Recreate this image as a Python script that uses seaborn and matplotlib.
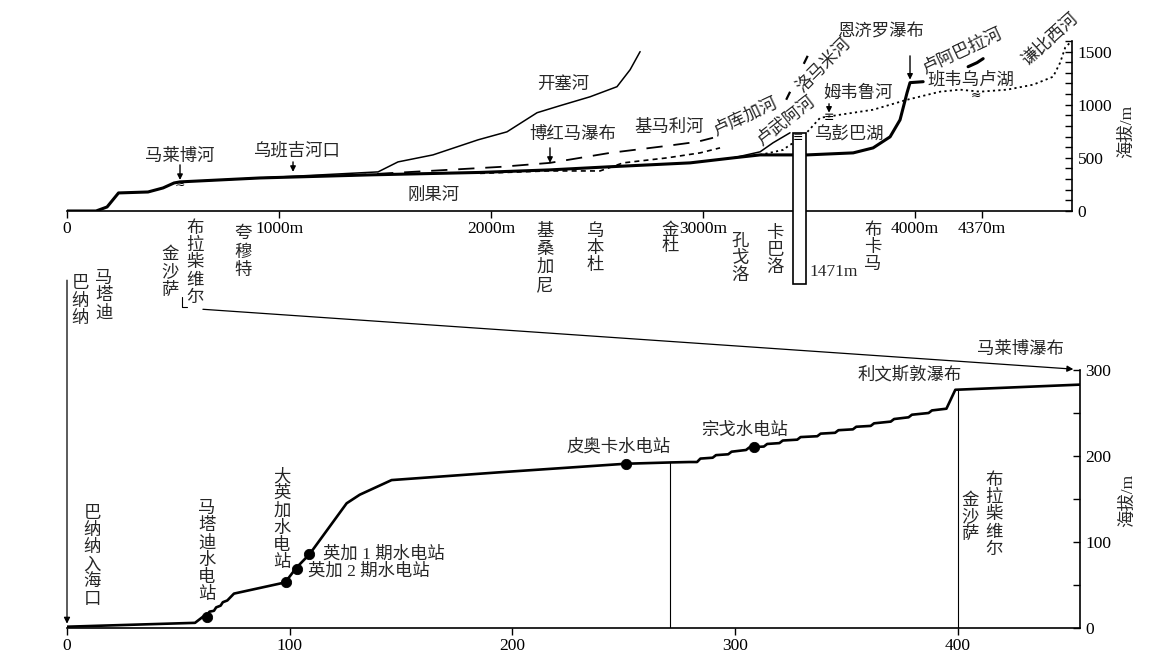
import matplotlib
matplotlib.use('Agg')
import matplotlib.pyplot as plt
import seaborn as sns
from matplotlib.patches import Rectangle, ConnectionPatch
from matplotlib.lines import Line2D

# ---- 上图：刚果河全程纵剖面 (km, m) ----
main_km = [0, 137, 189, 243, 382, 453, 505, 533, 910, 1429, 1948, 2278, 2547, 2939,
           3142, 3269, 3410, 3491, 3708, 3802, 3882, 3929, 3962, 3976, 4038]
main_m = [0, 0, 38, 170, 179, 217, 264, 274, 311, 340, 363, 387, 415, 453,
          500, 528, 528, 528, 547, 594, 698, 858, 1113, 1208, 1217]

kasai_km = [627, 1099, 1467, 1561, 1726, 1939, 2075, 2217, 2325, 2467, 2594, 2656, 2703]
kasai_m = [283, 330, 368, 462, 528, 670, 745, 925, 991, 1075, 1170, 1330, 1500]

kimali_km = [1335, 2042, 2278, 2561, 2830, 2972, 3047]
kimali_m = [335, 415, 453, 547, 613, 651, 689]

lukuga_km = [1948, 2264, 2514, 2623, 2830, 2986, 3080]
lukuga_m = [354, 377, 377, 453, 500, 547, 594]

luvua_km = [3142, 3269, 3330, 3410]
luvua_m = [500, 557, 642, 736]

upper_km = [3269, 3377, 3410, 3458, 3552, 3646, 3802, 3962, 4118, 4212, 4307, 4434,
            4557, 4651, 4684, 4708, 4731]
upper_m = [528, 575, 623, 670, 877, 906, 953, 1047, 1123, 1142, 1123, 1142,
           1189, 1264, 1396, 1538, 1585]

lomami_km = [3392, 3524]
lomami_m = [1047, 1585]

luapula_km = [4250, 4292, 4321]
luapula_m = [1358, 1396, 1434]

# 坦噶尼喀湖 (左, 右, 湖底, 湖面)
lake_box = [3425, 3486, -690, 736]

top_ticks = [0, 1000, 2000, 3000, 4000, 4316]
top_ticklabels = ['0', '1000m', '2000m', '3000m', '4000m', '4370m']

# 湖泊符号
lake_km = [533, 3448, 3594, 4288]
lake_m = [250, 695, 880, 1090]
lake_sym = ['≈', '≡', '≡', '≈']

# 箭头 (km, 起点m, 终点m)
arrow_km = [533, 1066, 2278, 3594, 3976]
arrow_from = [434, 462, 594, 1009, 1460]
arrow_to = [292, 368, 453, 925, 1236]

# ---- 下图：巴纳纳—马莱博瀑布 (km, m) ----
low_km = [0, 57.5, 61, 63, 64, 66, 67, 69, 70, 72, 75, 98, 103, 109, 125.6, 131.5, 145.8,
          194, 251, 271, 279.5, 283, 284.5, 290, 291.5, 297, 298.5, 305, 306.5, 313, 314.5,
          320, 321.5, 328, 329.5, 337, 338.5, 345, 346.5, 353, 354.5, 361, 362.5, 370, 371.5,
          378, 379.5, 387, 388.5, 395, 399, 455]
low_m = [1.5, 6, 13, 15, 19, 20, 24, 26, 30, 32, 40, 53, 70, 86, 145, 155, 172,
         181, 191, 192.5, 193, 193, 197, 198, 201, 202, 205, 207, 210, 211, 214,
         215, 218, 219, 222, 223, 226, 227, 230, 231, 234, 235, 238, 240, 243,
         245, 248, 250, 253, 255, 277, 283]

dam_km = [62.7, 98.2, 103.4, 108.8, 251, 308.4]
dam_m = [13, 53, 69, 86, 191, 210]

mark_km = [271, 400]
mark_m = [192.5, 277]

W, H = 1156, 662

sns.set_theme(style='white')
plt.rcParams['font.family'] = ['Liberation Serif', 'Noto Sans CJK SC']
plt.rcParams['axes.unicode_minus'] = False
FS = 12.5

fig = plt.figure(figsize=(W / 100, H / 100), dpi=100)
ax1 = fig.add_axes([67 / W, 1 - 211 / H, (1072 - 67) / W, (211 - 41) / H])
ax2 = fig.add_axes([67 / W, 1 - 628 / H, (1080 - 67) / W, (628 - 370) / H])


def ftext(x, y, s, **kw):
    kw.setdefault('fontsize', FS)
    kw.setdefault('ha', 'center')
    kw.setdefault('va', 'center')
    fig.text(x / W, 1 - y / H, s, **kw)


def vtext(x, y_top, s, step=17.3):
    for i, ch in enumerate(s):
        ftext(x, y_top + step * (i + 0.5), ch)


def line(ax, x, y, lw, ls='-'):
    sns.lineplot(x=x, y=y, ax=ax, color='black', lw=lw, linestyle=ls,
                 sort=False, estimator=None, zorder=2)


# 上图
line(ax1, main_km, main_m, 2.2)
line(ax1, kasai_km, kasai_m, 1.1)
line(ax1, kimali_km, kimali_m, 1.3, (0, (9, 6)))
line(ax1, lukuga_km, lukuga_m, 1.2, (0, (3, 2.5)))
line(ax1, luvua_km, luvua_m, 1.1)
line(ax1, upper_km, upper_m, 1.3, (0, (1.2, 1.8)))
line(ax1, lomami_km, lomami_m, 1.6, (0, (4, 14)))
line(ax1, luapula_km, luapula_m, 2.2)

ax1.add_patch(Rectangle((lake_box[0], lake_box[2]), lake_box[1] - lake_box[0],
                        lake_box[3] - lake_box[2], fc='white', ec='black', lw=1.2,
                        clip_on=False, zorder=3))
for xk, ym, sym in zip(lake_km, lake_m, lake_sym):
    ax1.text(xk, ym, sym, ha='center', va='center', fontsize=9,
             family='DejaVu Sans', color='black', zorder=4)
for xk, y0, y1 in zip(arrow_km, arrow_from, arrow_to):
    ax1.annotate('', xy=(xk, y1), xytext=(xk, y0),
                 arrowprops=dict(arrowstyle='-|>', color='black', lw=1, mutation_scale=8,
                                 shrinkA=0, shrinkB=0))

ax1.set_xlim(0, 4740)
ax1.set_ylim(0, 1600)
ax1.set_xticks(top_ticks)
ax1.set_xticklabels(top_ticklabels)
ax1.set_yticks([0, 500, 1000, 1500])
ax1.set_yticks(range(0, 1601, 100), minor=True)

# 下图
line(ax2, low_km, low_m, 1.9)
ax2.vlines(mark_km, 0, mark_m, color='black', lw=0.8)
sns.scatterplot(x=dam_km, y=dam_m, ax=ax2, color='black', s=55, edgecolor='black', zorder=5)
ax2.set_xlim(0, 455)
ax2.set_ylim(0, 300)
ax2.set_xticks([0, 100, 200, 300, 400])
ax2.set_yticks([0, 100, 200, 300])
ax2.set_yticks([50, 150, 250], minor=True)

for ax in (ax1, ax2):
    ax.patch.set_visible(False)
    ax.set_xlabel('')
    ax.set_ylabel('')
    for s in ('left', 'top'):
        ax.spines[s].set_visible(False)
    for s in ('right', 'bottom'):
        ax.spines[s].set_color('black')
        ax.spines[s].set_linewidth(1.2)
    ax.yaxis.tick_right()
    ax.tick_params(axis='y', which='both', direction='in', length=5, width=1,
                   colors='black', labelsize=FS, pad=4)
    ax.tick_params(axis='x', which='both', direction='out', length=5, width=1,
                   colors='black', labelsize=FS, pad=2, bottom=True)
    ax.tick_params(axis='y', which='major', right=True)
    ax.tick_params(axis='y', which='minor', right=True, left=False)

# 上图标注
ftext(563, 85, '开塞河')
ftext(180, 157, '马莱博河')
ftext(296, 151, '乌班吉河口')
ftext(573, 135, '博红马瀑布')
ftext(669, 128, '基马利河')
ftext(745, 117, '卢库加河', rotation=25)
ftext(786, 121, '卢武阿河', rotation=38)
ftext(824, 66, '洛马米河', rotation=45)
ftext(880, 32, '恩济罗瀑布')
ftext(858, 94, '姆韦鲁河')
ftext(849, 134, '乌彭巴湖')
ftext(962, 52, '卢阿巴拉河', rotation=25)
ftext(971, 80, '班韦乌卢湖')
ftext(1050, 40, '谦比西河', rotation=42)
ftext(434, 196, '刚果河')
ftext(1127, 131, '海拔/m', rotation=90)
ftext(834, 272, '1471m')

vtext(195, 220, '布拉柴维尔')
vtext(170, 246, '金沙萨', step=18)
vtext(243, 225, '夸穆特', step=18.5)
vtext(104, 270, '马塔迪')
vtext(80, 275, '巴纳纳', step=17.7)
vtext(545, 223, '基桑加尼', step=18)
vtext(595, 223, '乌本杜')
vtext(670, 223, '金杜', step=16)
vtext(740, 233, '孔戈洛')
vtext(775, 225, '卡巴洛')
vtext(873, 222, '布卡马')

# 下图标注
vtext(92, 505, '巴纳纳入海口')
vtext(207, 500, '马塔迪水电站')
vtext(282, 468, '大英加水电站')
ftext(323, 555, '英加 1 期水电站', ha='left')
ftext(308, 572, '英加 2 期水电站', ha='left')
ftext(619, 447, '皮奥卡水电站')
ftext(745, 431, '宗戈水电站')
ftext(910, 375, '利文斯敦瀑布')
ftext(1020, 350, '马莱博瀑布')
vtext(970, 492, '金沙萨')
vtext(994, 472, '布拉柴维尔')
ftext(1128, 500, '海拔/m', rotation=90)

# 上下图连接线
fig.add_artist(ConnectionPatch(xyA=(0, -651), coordsA=ax1.transData,
                               xyB=(0, 5), coordsB=ax2.transData,
                               arrowstyle='-|>', lw=0.9, color='black', mutation_scale=9))
fig.add_artist(ConnectionPatch(xyA=(641, -925), coordsA=ax1.transData,
                               xyB=(452, 301), coordsB=ax2.transData,
                               arrowstyle='-|>', lw=0.9, color='black', mutation_scale=9))
fig.add_artist(Line2D([182 / W, 182 / W, 187 / W], [1 - 297 / H, 1 - 307 / H, 1 - 307 / H],
                      transform=fig.transFigure, lw=0.8, color='black'))

fig.savefig('out.png', dpi=100, facecolor='white')
